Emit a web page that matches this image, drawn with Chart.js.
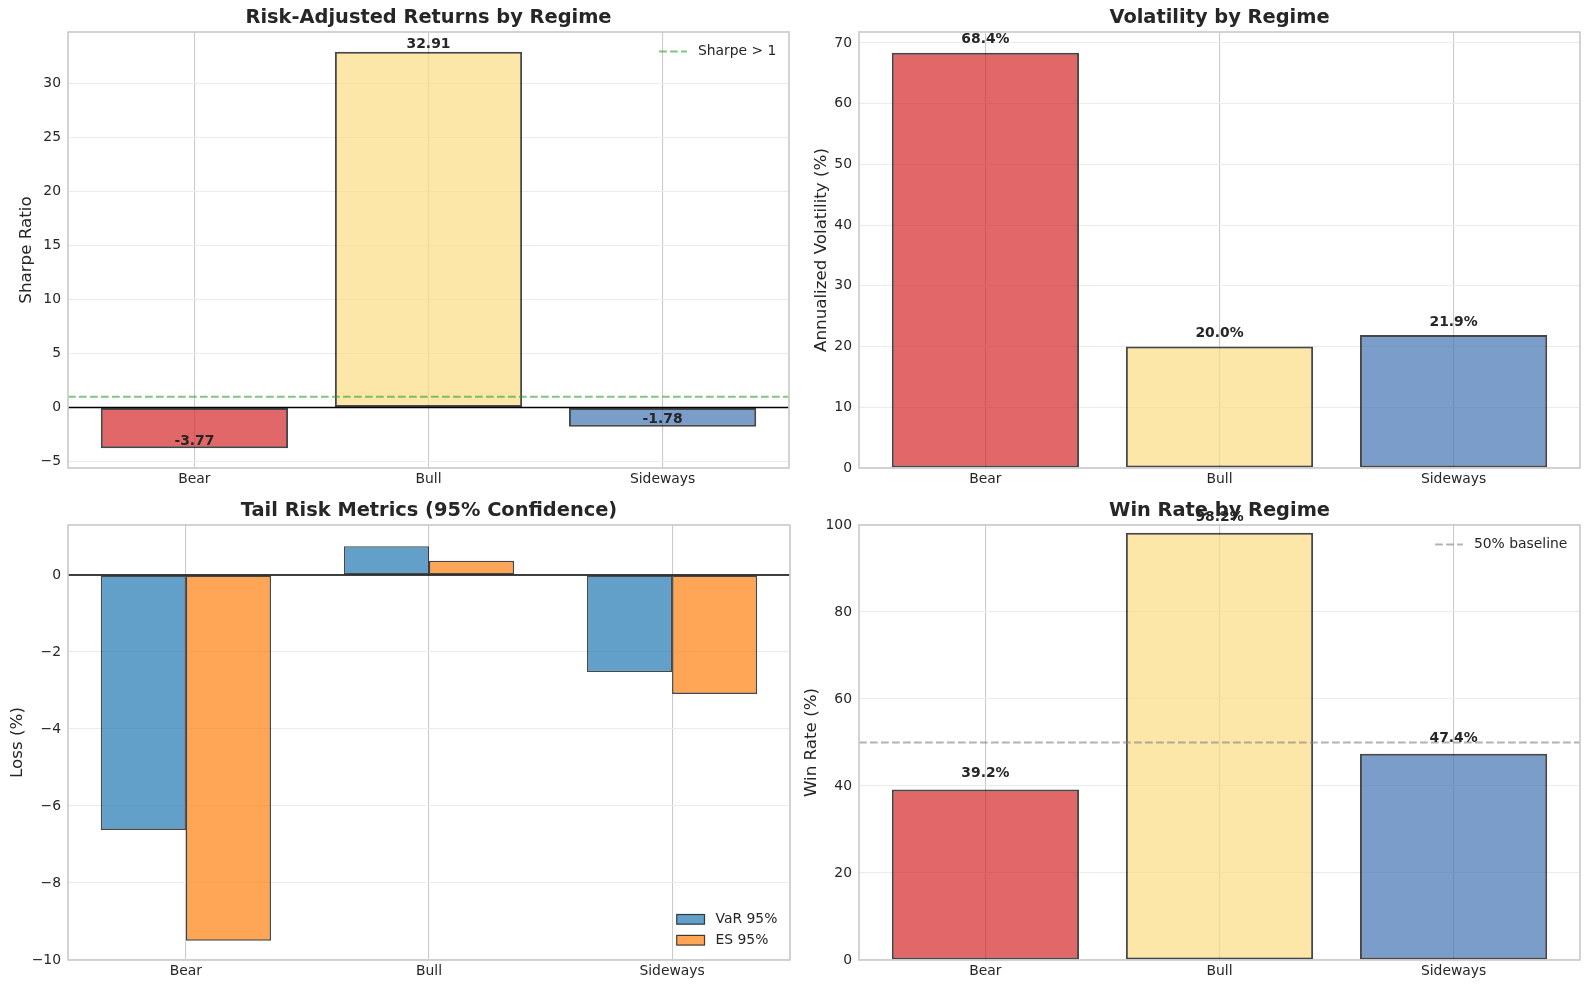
<!DOCTYPE html>
<html lang="en">
<head>
<meta charset="UTF-8">
<title>Regime Metrics</title>
<script src="https://cdn.jsdelivr.net/npm/chart.js"></script>
<style>
    body { margin: 0; background: #ffffff; }
    canvas { position: absolute; }
</style>
</head>
<body>
    <canvas id="sharpeChart" width="795" height="490" style="left:0px; top:0px;"></canvas>
    <canvas id="volChart" width="794" height="490" style="left:795px; top:0px;"></canvas>
    <canvas id="tailChart" width="795" height="499" style="left:0px; top:490px;"></canvas>
    <canvas id="winChart" width="794" height="499" style="left:795px; top:490px;"></canvas>
<script>
    // data
    const regimes = ['Bear', 'Bull', 'Sideways'];
    const sharpeRatio = [-3.77, 32.91, -1.78];
    const volatility = [68.4, 20.0, 21.9];
    const var95 = [-6.62, 0.75, -2.52];
    const es95 = [-9.50, 0.37, -3.09];
    const winRate = [39.2, 98.2, 47.4];

    const sharpeTicks = [-5, 0, 5, 10, 15, 20, 25, 30];
    const volTicks = [0, 10, 20, 30, 40, 50, 60, 70];
    const tailTicks = [-10, -8, -6, -4, -2, 0];
    const winTicks = [0, 20, 40, 60, 80, 100];

    const sharpeThreshold = 1;
    const winBaseline = 50;

    const regimeFill = ['rgba(214,39,40,0.7)', 'rgba(251,221,132,0.7)', 'rgba(66,116,178,0.7)'];
    const varFill = 'rgba(31,119,180,0.7)';
    const esFill = 'rgba(255,127,14,0.7)';
    const edgeDark = 'rgba(0,0,0,0.72)';
    const textColor = '#262626';
    const fontFamily = '"DejaVu Sans", sans-serif';

    Chart.defaults.font.family = fontFamily;
    Chart.defaults.color = textColor;

    function points(values) {
        return regimes.map((r, i) => ({x: i, y: values[i]}));
    }
    function minusSign(v) {
        return String(v).replace('-', '\u2212');
    }

    // reference lines, value labels, frame and legend drawn on top of the bars
    const extras = {
        id: 'extras',
        afterDatasetsDraw(chart, args, opts) {
            const ctx = chart.ctx;
            const a = chart.chartArea;
            const y = chart.scales.y;
            ctx.save();
            (opts.hlines || []).forEach(h => {
                const py = y.getPixelForValue(h.value);
                ctx.beginPath();
                ctx.strokeStyle = h.color;
                ctx.lineWidth = h.width;
                ctx.setLineDash(h.dash || []);
                ctx.moveTo(a.left, py);
                ctx.lineTo(a.right, py);
                ctx.stroke();
            });
            ctx.setLineDash([]);
            ctx.strokeStyle = '#cccccc';
            ctx.lineWidth = 1.7;
            ctx.strokeRect(a.left, a.top, a.right - a.left, a.bottom - a.top);

            if (opts.labels) {
                const meta = chart.getDatasetMeta(0);
                ctx.font = 'bold 13.9px ' + fontFamily;
                ctx.fillStyle = textColor;
                ctx.textAlign = 'center';
                ctx.textBaseline = 'bottom';
                opts.labels.values.forEach((v, i) => {
                    ctx.fillText(opts.labels.fmt(v), meta.data[i].x, y.getPixelForValue(v + opts.labels.offset));
                });
            }

            if (opts.legend) {
                const items = opts.legend.items;
                ctx.font = '13.9px ' + fontFamily;
                let maxW = 0;
                items.forEach(it => { maxW = Math.max(maxW, ctx.measureText(it.text).width); });
                const textX = a.right - 12.6 - maxW;
                const handleX = textX - 11 - 27.8;
                const rowStep = 20.9;
                let firstY;
                if (opts.legend.pos === 'upper right') {
                    firstY = a.top + 12.6 + 7;
                } else {
                    firstY = a.bottom - 12.6 - 7 - rowStep * (items.length - 1);
                }
                items.forEach((it, k) => {
                    const cy = firstY + rowStep * k;
                    if (it.type === 'line') {
                        ctx.beginPath();
                        ctx.strokeStyle = it.color;
                        ctx.lineWidth = 2;
                        ctx.setLineDash([7.7, 3.3]);
                        ctx.moveTo(handleX, cy);
                        ctx.lineTo(handleX + 27.8, cy);
                        ctx.stroke();
                        ctx.setLineDash([]);
                    } else {
                        ctx.fillStyle = it.color;
                        ctx.fillRect(handleX, cy - 5, 27.8, 9.7);
                        ctx.strokeStyle = 'rgba(0,0,0,0.72)';
                        ctx.lineWidth = 1.2;
                        ctx.strokeRect(handleX, cy - 5, 27.8, 9.7);
                    }
                    ctx.fillStyle = textColor;
                    ctx.textAlign = 'left';
                    ctx.textBaseline = 'middle';
                    ctx.fillText(it.text, textX, cy);
                });
            }
            ctx.restore();
        }
    };

    function makePanel(id, cfg) {
        return new Chart(document.getElementById(id), {
            type: 'bar',
            data: { datasets: cfg.datasets },
            options: {
                responsive: false,
                animation: false,
                layout: { padding: { left: 0, right: cfg.padR, top: 0, bottom: 0 } },
                plugins: {
                    legend: { display: false },
                    tooltip: { enabled: false },
                    title: {
                        display: true,
                        text: cfg.title,
                        fullSize: false,
                        color: textColor,
                        font: { size: 19.4, weight: 'bold', lineHeight: '20px' },
                        padding: { top: cfg.titleTop, bottom: cfg.titleBottom }
                    },
                    extras: { hlines: cfg.hlines, labels: cfg.labels, legend: cfg.legend }
                },
                scales: {
                    x: {
                        type: 'linear',
                        min: cfg.xMin,
                        max: cfg.xMax,
                        offset: false,
                        afterBuildTicks: axis => { axis.ticks = regimes.map((r, i) => ({value: i})); },
                        afterFit: axis => { axis.height = cfg.xH; },
                        ticks: {
                            callback: v => regimes[v],
                            font: { size: 13.9 },
                            color: textColor,
                            padding: 3,
                            maxRotation: 0,
                            autoSkip: false
                        },
                        grid: { offset: false, drawTicks: false, color: '#cbcbcb', lineWidth: 1.1 },
                        border: { display: false }
                    },
                    y: {
                        min: cfg.yMin,
                        max: cfg.yMax,
                        afterBuildTicks: axis => { axis.ticks = cfg.yTicks.map(v => ({value: v})); },
                        afterFit: axis => { axis.width = cfg.yW; },
                        ticks: {
                            callback: v => minusSign(v),
                            font: { size: 13.9 },
                            color: textColor,
                            padding: 7
                        },
                        grid: { drawTicks: false, color: '#ebebeb', lineWidth: 1.1 },
                        border: { display: false },
                        title: {
                            display: true,
                            text: cfg.yLabel,
                            color: textColor,
                            font: { size: 16.7, lineHeight: '20px' },
                            padding: { top: cfg.yTitlePad, bottom: 0 }
                        }
                    }
                }
            },
            plugins: [extras]
        });
    }

    let sharpeChart = makePanel('sharpeChart', {
        title: 'Risk-Adjusted Returns by Regime',
        yLabel: 'Sharpe Ratio',
        yMin: -5.6, yMax: 34.74, yTicks: sharpeTicks,
        xMin: -0.54, xMax: 2.54,
        padR: 6, titleTop: 8, titleBottom: 4, xH: 22, yW: 68, yTitlePad: 16.5,
        datasets: [{
            data: points(sharpeRatio),
            backgroundColor: regimeFill,
            borderColor: edgeDark,
            borderWidth: 2,
            borderSkipped: false,
            categoryPercentage: 1,
            barPercentage: 0.8
        }],
        hlines: [
            { value: sharpeThreshold, color: 'rgba(44,160,44,0.6)', width: 2, dash: [7.7, 3.3] },
            { value: 0, color: '#000000', width: 1.4 }
        ],
        labels: { values: sharpeRatio, offset: 0, fmt: v => v.toFixed(2) },
        legend: { pos: 'upper right', items: [{ type: 'line', color: 'rgba(44,160,44,0.6)', text: 'Sharpe > 1' }] }
    });

    let volChart = makePanel('volChart', {
        title: 'Volatility by Regime',
        yLabel: 'Annualized Volatility (%)',
        yMin: 0, yMax: 71.82, yTicks: volTicks,
        xMin: -0.54, xMax: 2.54,
        padR: 9, titleTop: 8, titleBottom: 4, xH: 22, yW: 64, yTitlePad: 16.5,
        datasets: [{
            data: points(volatility),
            backgroundColor: regimeFill,
            borderColor: edgeDark,
            borderWidth: 2,
            borderSkipped: false,
            categoryPercentage: 1,
            barPercentage: 0.8
        }],
        hlines: [],
        labels: { values: volatility, offset: 1, fmt: v => v.toFixed(1) + '%' }
    });

    let tailChart = makePanel('tailChart', {
        title: 'Tail Risk Metrics (95% Confidence)',
        yLabel: 'Loss (%)',
        yMin: -10, yMax: 1.3, yTicks: tailTicks,
        xMin: -0.485, xMax: 2.485,
        padR: 5, titleTop: 11, titleBottom: 4, xH: 29, yW: 68, yTitlePad: 7.5,
        datasets: [{
            label: 'VaR 95%',
            data: points(var95),
            backgroundColor: varFill,
            borderColor: edgeDark,
            borderWidth: 1.4,
            borderSkipped: false,
            categoryPercentage: 0.7,
            barPercentage: 1
        }, {
            label: 'ES 95%',
            data: points(es95),
            backgroundColor: esFill,
            borderColor: edgeDark,
            borderWidth: 1.4,
            borderSkipped: false,
            categoryPercentage: 0.7,
            barPercentage: 1
        }],
        hlines: [{ value: 0, color: '#000000', width: 1.4 }],
        legend: { pos: 'lower right', items: [
            { type: 'box', color: varFill, text: 'VaR 95%' },
            { type: 'box', color: esFill, text: 'ES 95%' }
        ] }
    });

    let winChart = makePanel('winChart', {
        title: 'Win Rate by Regime',
        yLabel: 'Win Rate (%)',
        yMin: 0, yMax: 100, yTicks: winTicks,
        xMin: -0.54, xMax: 2.54,
        padR: 9, titleTop: 11, titleBottom: 4, xH: 29, yW: 64, yTitlePad: 6.5,
        datasets: [{
            data: points(winRate),
            backgroundColor: regimeFill,
            borderColor: edgeDark,
            borderWidth: 2,
            borderSkipped: false,
            categoryPercentage: 1,
            barPercentage: 0.8
        }],
        hlines: [{ value: winBaseline, color: 'rgba(128,128,128,0.6)', width: 2, dash: [7.7, 3.3] }],
        labels: { values: winRate, offset: 2, fmt: v => v.toFixed(1) + '%' },
        legend: { pos: 'upper right', items: [{ type: 'line', color: 'rgba(128,128,128,0.6)', text: '50% baseline' }] }
    });
</script>
</body>
</html>
